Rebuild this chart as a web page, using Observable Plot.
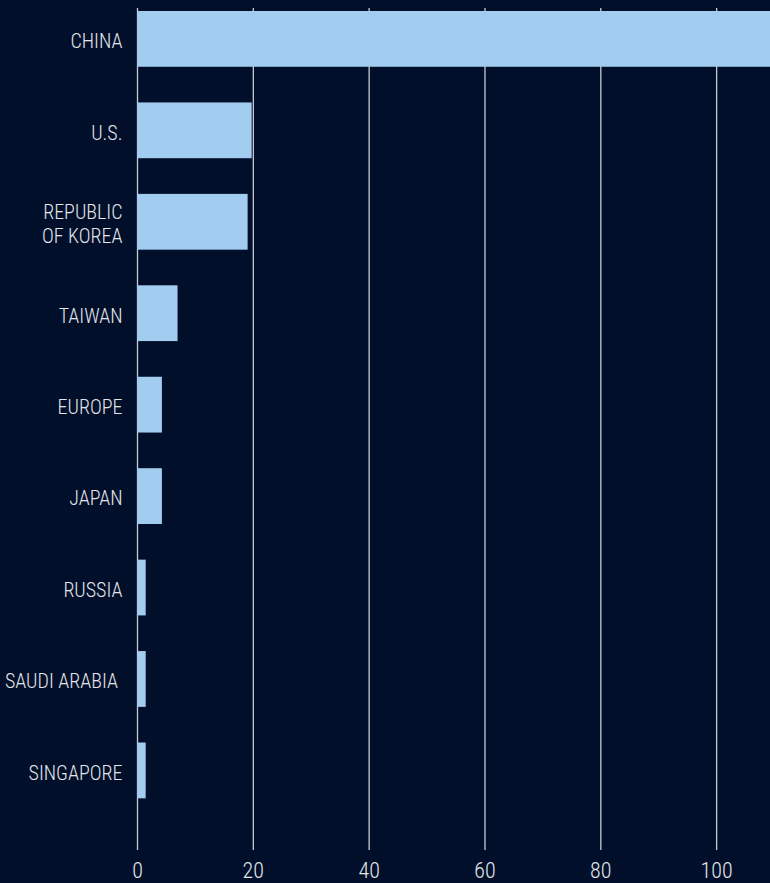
<!DOCTYPE html>
<html>
<head>
<meta charset="utf-8">
<script src="https://cdn.jsdelivr.net/npm/d3@7"></script>
<script src="https://cdn.jsdelivr.net/npm/@observablehq/plot@0.6"></script>
<style>
  html, body { margin: 0; padding: 0; background: #010f2b; }
  #chart svg { display: block; }
</style>
</head>
<body>
<div id="chart"></div>
<script>
const categories = ["CHINA", "U.S.", "REPUBLIC\nOF KOREA", "TAIWAN", "EUROPE", "JAPAN", "RUSSIA", "SAUDI ARABIA\u00a0", "SINGAPORE"];
const values = [115, 19.8, 19.1, 7.0, 4.3, 4.3, 1.5, 1.5, 1.5];
const xTicks = [0, 20, 40, 60, 80, 100];

const data = categories.map((c, i) => ({category: c, value: values[i]}));

const font = "'Roboto Condensed', 'Liberation Sans Narrow', 'DejaVu Sans Condensed', sans-serif";

const chart = Plot.plot({
  width: 770,
  height: 883,
  marginLeft: 137,
  marginRight: 0,
  marginTop: 8,
  marginBottom: 33,
  style: {background: "#010f2b", color: "#e4e6ea", fontFamily: font, overflow: "hidden"},
  x: {domain: [0, 109.3], ticks: xTicks, axis: null, label: null},
  y: {domain: categories, range: [11, 798.3], paddingInner: 0.39, paddingOuter: 0, round: false, axis: null, label: null},
  marks: [
    Plot.gridX(xTicks, {stroke: "#c9cbd3", strokeOpacity: 1, strokeWidth: 1.3}),
    Plot.barX(data, {x: "value", y: "category", fill: "#a3cdf0", clip: true}),
    Plot.axisX(xTicks, {tickSize: 0, tickPadding: 12, fontSize: 22, fontWeight: 300, fill: "#e4e6ea", label: null, tickFormat: d => String(d)}),
    Plot.axisY({tickSize: 0, tickPadding: 15, fontSize: 20, fontWeight: 300, fill: "#e4e6ea", label: null, lineHeight: 1.22, dy: 1})
  ]
});

document.getElementById("chart").appendChild(chart);
</script>
</body>
</html>
